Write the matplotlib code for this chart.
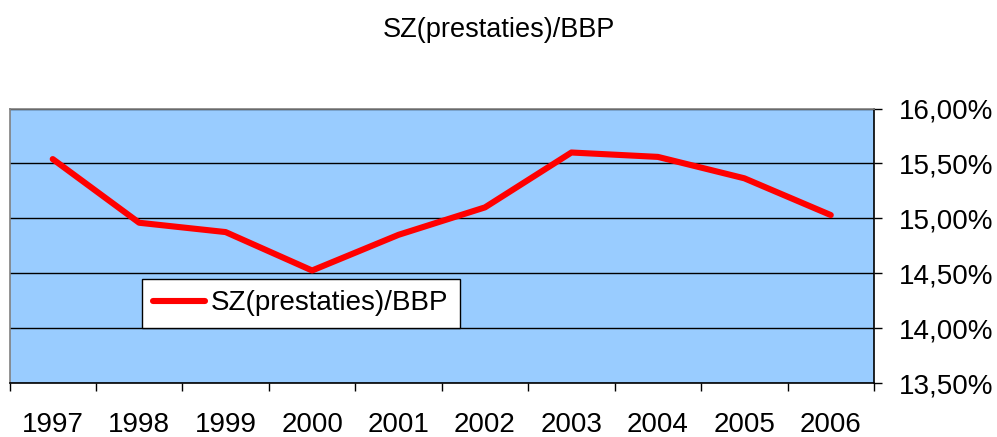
import matplotlib
matplotlib.use("Agg")
import matplotlib.pyplot as plt
from matplotlib.ticker import FuncFormatter, FixedLocator

plt.rcParams['font.family'] = ['Liberation Sans', 'DejaVu Sans']

years = ['1997', '1998', '1999', '2000', '2001', '2002', '2003', '2004', '2005', '2006']
values = [15.54, 14.96, 14.875, 14.525, 14.85, 15.10, 15.60, 15.56, 15.365, 15.03]
series_name = 'SZ(prestaties)/BBP'
title = 'SZ(prestaties)/BBP'
yticks = [13.5, 14.0, 14.5, 15.0, 15.5, 16.0]

fig = plt.figure(figsize=(9.97, 4.37), dpi=100)
ax = fig.add_axes([9.5/997, 1-383/437, (874-9.5)/997, (383-108.6)/437])
ax.set_facecolor('#99CCFF')

x = list(range(len(years)))
ax.plot(x, values, color='#FF0000', linewidth=4.4, solid_capstyle='round',
        solid_joinstyle='round', label=series_name, zorder=3)

ax.set_xlim(-0.5, len(years) - 0.5)
ax.set_ylim(yticks[0], yticks[-1])
ax.yaxis.set_major_locator(FixedLocator(yticks))
ax.yaxis.set_major_formatter(FuncFormatter(lambda v, p: f"{v:.2f}".replace('.', ',') + '%'))
ax.yaxis.tick_right()
ax.grid(axis='y', color='black', linewidth=1.0, zorder=1)

ax.set_xticks(x)
ax.set_xticklabels(years)
ax.set_xticks([i - 0.5 for i in range(len(years) + 1)], minor=True)
ax.tick_params(axis='x', which='major', length=0, pad=21, labelsize=20)
ax.tick_params(axis='x', which='minor', length=5.5, width=1, color='black', direction='out')
ax.tick_params(axis='y', which='major', length=6, width=1, color='black', direction='out',
               pad=12, labelsize=20)

for side in ['top', 'left']:
    ax.spines[side].set_color('#808080')
    ax.spines[side].set_linewidth(1.2)
ax.spines['right'].set_color('black')
ax.spines['right'].set_linewidth(1.2)
ax.spines['bottom'].set_color('black')
ax.spines['bottom'].set_linewidth(1.2)

fig.text(498.7/997, 1 - 30/437, title, ha='center', va='center', fontsize=19.5)

leg = ax.legend(loc='upper left', bbox_to_anchor=(141.5/997, 1 - 279.3/437),
                bbox_transform=fig.transFigure, fontsize=20, frameon=True,
                fancybox=False, handlelength=1.9, handletextpad=0.2,
                borderpad=0.4, borderaxespad=0)
leg.get_frame().set_edgecolor('black')
leg.get_frame().set_linewidth(1.0)
leg.get_frame().set_facecolor('white')
leg.get_frame().set_alpha(1)

fig.savefig('out.png', dpi=100)
